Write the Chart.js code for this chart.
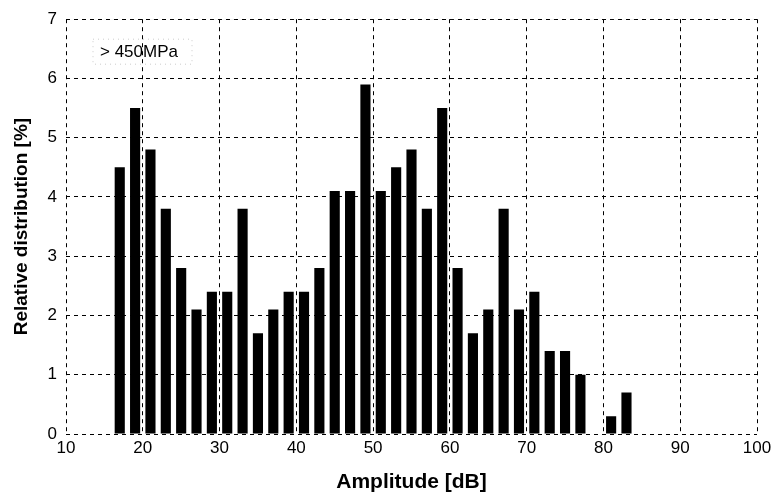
<!DOCTYPE html>
<html>
<head>
<meta charset="utf-8">
<script src="https://cdn.jsdelivr.net/npm/chart.js@4"></script>
<style>
  html, body { margin: 0; padding: 0; background: #fff; }
  #wrap { width: 776px; height: 500px; }
</style>
</head>
<body>
<div id="wrap"><canvas id="distChart" width="776" height="500"></canvas></div>
<script>
// Data
const amplitudes = [17, 19, 21, 23, 25, 27, 29, 31, 33, 35, 37, 39, 41, 43, 45, 47, 49,
                    51, 53, 55, 57, 59, 61, 63, 65, 67, 69, 71, 73, 75, 77, 79, 81, 83];
const distribution = [4.5, 5.5, 4.8, 3.8, 2.8, 2.1, 2.4, 2.4, 3.8, 1.7, 2.1, 2.4, 2.4, 2.8, 4.1, 4.1, 5.9,
                      4.1, 4.5, 4.8, 3.8, 5.5, 2.8, 1.7, 2.1, 3.8, 2.1, 2.4, 1.4, 1.4, 1.0, 0, 0.3, 0.7];
const seriesLabel = "> 450MPa";

const ctx = document.getElementById("distChart");

// Small boxed label in the upper-left corner of the plot
const cornerLabel = {
    id: "cornerLabel",
    afterDraw(chart) {
        const c = chart.ctx;
        const area = chart.chartArea;
        c.save();
        c.strokeStyle = "#ccc";
        c.setLineDash([1, 4]);
        c.lineWidth = 1;
        c.strokeRect(area.left + 27, area.top + 20, 99, 25);
        c.fillStyle = "#000";
        c.font = "17px 'Liberation Sans', Arial, sans-serif";
        c.textBaseline = "middle";
        c.fillText(seriesLabel, area.left + 34, area.top + 33);
        c.restore();
    }
};

const tickFont = { family: "'Liberation Sans', Arial, sans-serif", size: 17 };
const titleFont = { family: "'Liberation Sans', Arial, sans-serif", size: 21, weight: "bold" };
const yTitleFont = { family: "'Liberation Sans', Arial, sans-serif", size: 19, weight: "bold" };

new Chart(ctx, {
    type: "bar",
    data: {
        datasets: [{
            label: seriesLabel,
            data: amplitudes.map((a, i) => ({ x: a, y: distribution[i] })),
            backgroundColor: "#000",
            borderWidth: 0,
            barPercentage: 0.66,
            categoryPercentage: 1
        }]
    },
    options: {
        responsive: false,
        animation: false,
        layout: { padding: { top: 17, right: 19, left: 0, bottom: 0 } },
        plugins: {
            legend: { display: false },
            tooltip: { enabled: false }
        },
        scales: {
            x: {
                type: "linear",
                min: 10,
                max: 100,
                offset: false,
                ticks: { stepSize: 10, color: "#000", font: tickFont, padding: 4, maxRotation: 0 },
                grid: { offset: false, color: "#000", lineWidth: 1, drawTicks: false },
                border: { display: false, dash: [4, 4] },
                title: { display: true, text: "Amplitude [dB]", color: "#000", font: titleFont, padding: { top: 0, bottom: 5 } },
                afterFit: s => { s.height = 66; }
            },
            y: {
                min: 0,
                max: 7,
                ticks: { stepSize: 1, color: "#000", font: tickFont, padding: 9 },
                grid: { color: "#000", lineWidth: 1, drawTicks: false },
                border: { display: false, dash: [4, 4] },
                title: { display: true, text: "Relative distribution [%]", color: "#000", font: yTitleFont, padding: { top: 10, bottom: 0 } },
                afterFit: s => { s.width = 66; }
            }
        }
    },
    plugins: [cornerLabel]
});
</script>
</body>
</html>
